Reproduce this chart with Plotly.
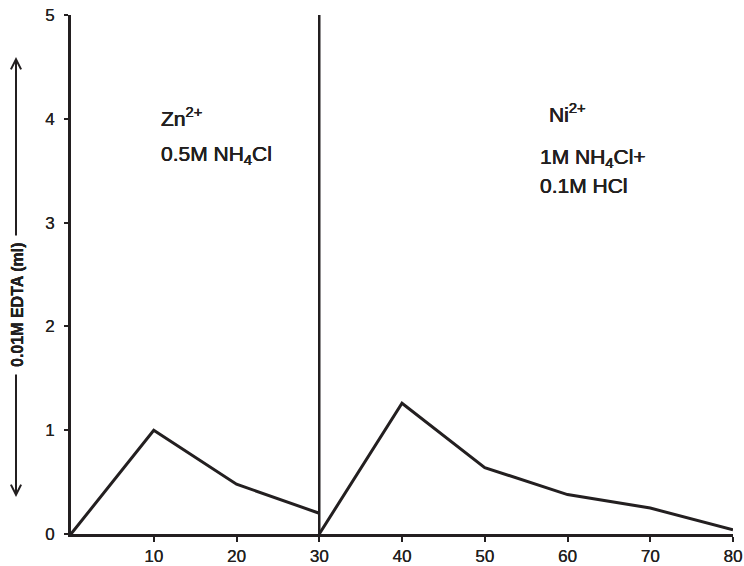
import plotly.graph_objects as go

# Data
zn_x = [0, 10, 20, 30]
zn_y = [0, 1.0, 0.48, 0.2]
ni_x = [30, 40, 50, 60, 70, 80]
ni_y = [0, 1.26, 0.64, 0.38, 0.25, 0.04]
divider_x = 30
x_ticks = [10, 20, 30, 40, 50, 60, 70, 80]
y_ticks = [0, 1, 2, 3, 4, 5]

INK = "#231f20"
THICK = "0.3px 0 0 #231f20, -0.3px 0 0 #231f20"
TICKFONT = dict(family="Liberation Sans Narrow, Liberation Sans, Arial", size=17, color=INK,
                shadow="0.2px 0 0 #231f20")
TXTFONT = dict(family="Liberation Sans, Arial", size=21, color=INK, shadow=THICK)

W, H = 744, 566
L, R, T, B = 71, 11, 15, 32
PW, PH = W - L - R, H - T - B


def px_x(px):
    return (px - L) / PW


def px_y(py):
    return 1 - (py - T) / PH


fig = go.Figure()
fig.add_trace(go.Scatter(x=zn_x, y=zn_y, mode="lines", line=dict(color=INK, width=3),
                         cliponaxis=False, showlegend=False))
fig.add_trace(go.Scatter(x=ni_x, y=ni_y, mode="lines", line=dict(color=INK, width=3),
                         cliponaxis=False, showlegend=False))

fig.add_shape(type="line", xref="x", yref="y", x0=divider_x, x1=divider_x, y0=0, y1=5,
              line=dict(color=INK, width=2.5))

ann = [
    dict(x=10.6, y=4.02, text="Zn<sup>2+</sup>"),
    dict(x=10.6, y=3.65, text="0.5M NH<sub>4</sub>Cl"),
    dict(x=57.5, y=4.06, text="Ni<sup>2+</sup>"),
    dict(x=56.4, y=3.62, text="1M NH<sub>4</sub>Cl+"),
    dict(x=56.4, y=3.36, text="0.1M HCl"),
]
for a in ann:
    fig.add_annotation(x=a["x"], y=a["y"], text=a["text"], xref="x", yref="y",
                       xanchor="left", yanchor="middle", showarrow=False, font=TXTFONT)

# Y-axis title with arrows
fig.add_annotation(xref="paper", yref="paper", x=px_x(17), y=px_y(305),
                   text="0.01M EDTA (ml)",
                   textangle=-90, showarrow=False, xanchor="center", yanchor="middle",
                   font=dict(family="Liberation Sans, Arial", size=16, color=INK, weight="bold",
                             shadow="0 0.3px 0 #231f20, 0 -0.3px 0 #231f20"))
# upper arrow (tip at top)
fig.add_annotation(xref="paper", yref="paper", x=px_x(16), y=px_y(57), text="",
                   showarrow=True, axref="pixel", ayref="pixel", ax=0, ay=180,
                   arrowhead=5, arrowsize=1, arrowwidth=2, arrowcolor=INK)
# lower arrow (tip at bottom)
fig.add_annotation(xref="paper", yref="paper", x=px_x(16), y=px_y(497), text="",
                   showarrow=True, axref="pixel", ayref="pixel", ax=0, ay=-124,
                   arrowhead=5, arrowsize=1, arrowwidth=2, arrowcolor=INK)

fig.update_layout(
    template="none",
    width=W, height=H,
    margin=dict(l=L, r=R, t=T, b=B, autoexpand=False),
    paper_bgcolor="white", plot_bgcolor="white",
    xaxis=dict(range=[0, 80], tickvals=x_ticks, ticks="outside", ticklen=5, tickwidth=2,
               tickcolor=INK, showline=True, linewidth=3, linecolor=INK, showgrid=False,
               zeroline=False, tickfont=TICKFONT, ticklabelstandoff=0, automargin=False),
    yaxis=dict(range=[0, 5], tickvals=y_ticks, ticks="outside", ticklen=4, tickwidth=2,
               tickcolor=INK, showline=True, linewidth=3, linecolor=INK, showgrid=False,
               zeroline=False, tickfont=TICKFONT, ticklabelstandoff=6, automargin=False),
)

fig.write_html(
    "out.html",
    config={"displayModeBar": False},
    post_script="document.body.style.margin='0';document.body.style.overflow='hidden';",
)
